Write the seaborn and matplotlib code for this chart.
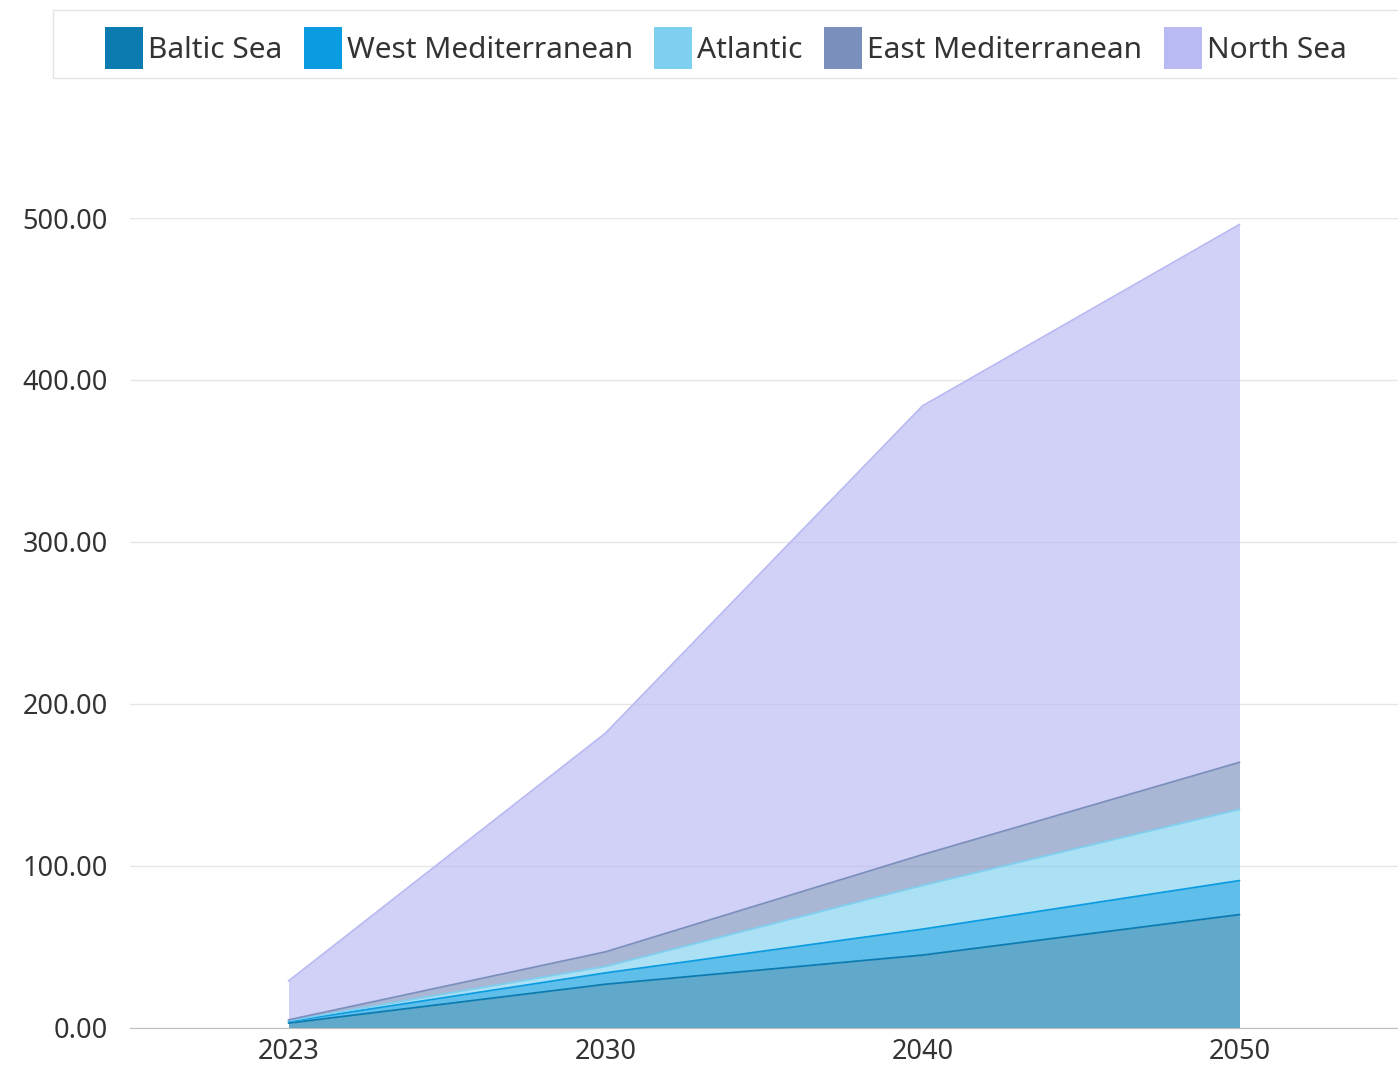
import matplotlib
matplotlib.use('Agg')
import matplotlib.pyplot as plt
import matplotlib.patches as mpatches
import seaborn as sns
import numpy as np

years = ['2023', '2030', '2040', '2050']
series = ['Baltic Sea', 'West Mediterranean', 'Atlantic', 'East Mediterranean', 'North Sea']
baltic = [3, 27, 45, 70]
west_med = [1, 7, 16, 21]
atlantic = [0.5, 4, 27, 44]
east_med = [0.5, 9, 19, 29]
north_sea = [24, 135, 277, 332]
colors = ['#0c7bb0', '#0a9be0', '#7fd0f0', '#7b8fbd', '#b9b9f3']

sns.set_style('white')
plt.rcParams['font.family'] = ['Noto Sans', 'DejaVu Sans']

fig = plt.figure(figsize=(13.98, 10.68), dpi=100)
ax = fig.add_axes([130 / 1398, 40 / 1068, 1 - 130 / 1398, 810 / 1068])

x = np.arange(len(years))
values = [baltic, west_med, atlantic, east_med, north_sea]
ax.stackplot(x, values, colors=colors, alpha=0.65, linewidth=0)
cum = np.cumsum(np.array(values, dtype=float), axis=0)
for top, c in zip(cum, colors):
    sns.lineplot(x=x, y=top, color=c, linewidth=1.3, ax=ax, legend=False)

ax.set_xlim(-0.5, 3.5)
ax.set_ylim(0, 500)
ax.set_yticks(np.arange(0, 501, 100))
ax.set_yticklabels([f'{v:.2f}' for v in np.arange(0, 501, 100)])
ax.set_xticks(x)
ax.set_xticklabels(years)
ax.grid(axis='y', color='#e6e6e6', linewidth=1)
ax.set_axisbelow(True)
for s in ['top', 'right', 'left']:
    ax.spines[s].set_visible(False)
ax.spines['bottom'].set_color('#bdbdbd')
ax.tick_params(axis='both', length=0, labelsize=19.5, labelcolor='#333333')
ax.tick_params(axis='y', pad=16)
ax.tick_params(axis='x', pad=7)

# legend frame
fig.patches.append(mpatches.Rectangle((53 / 1398, 1 - 78 / 1068), 1.0, 68 / 1068,
                                      transform=fig.transFigure, facecolor='white',
                                      edgecolor='#e4e4e4', linewidth=1))
handles = [mpatches.Patch(facecolor=c, edgecolor='none') for c in colors]
fig.legend(handles, series, loc='center left', bbox_to_anchor=(90 / 1398, 1 - 48 / 1068),
           ncol=5, frameon=False, fontsize=21.5, handlelength=1.27, handleheight=1.75,
           handletextpad=0.17, columnspacing=0.72, labelcolor='#333333', borderpad=0)

fig.savefig('out.png', dpi=100)
